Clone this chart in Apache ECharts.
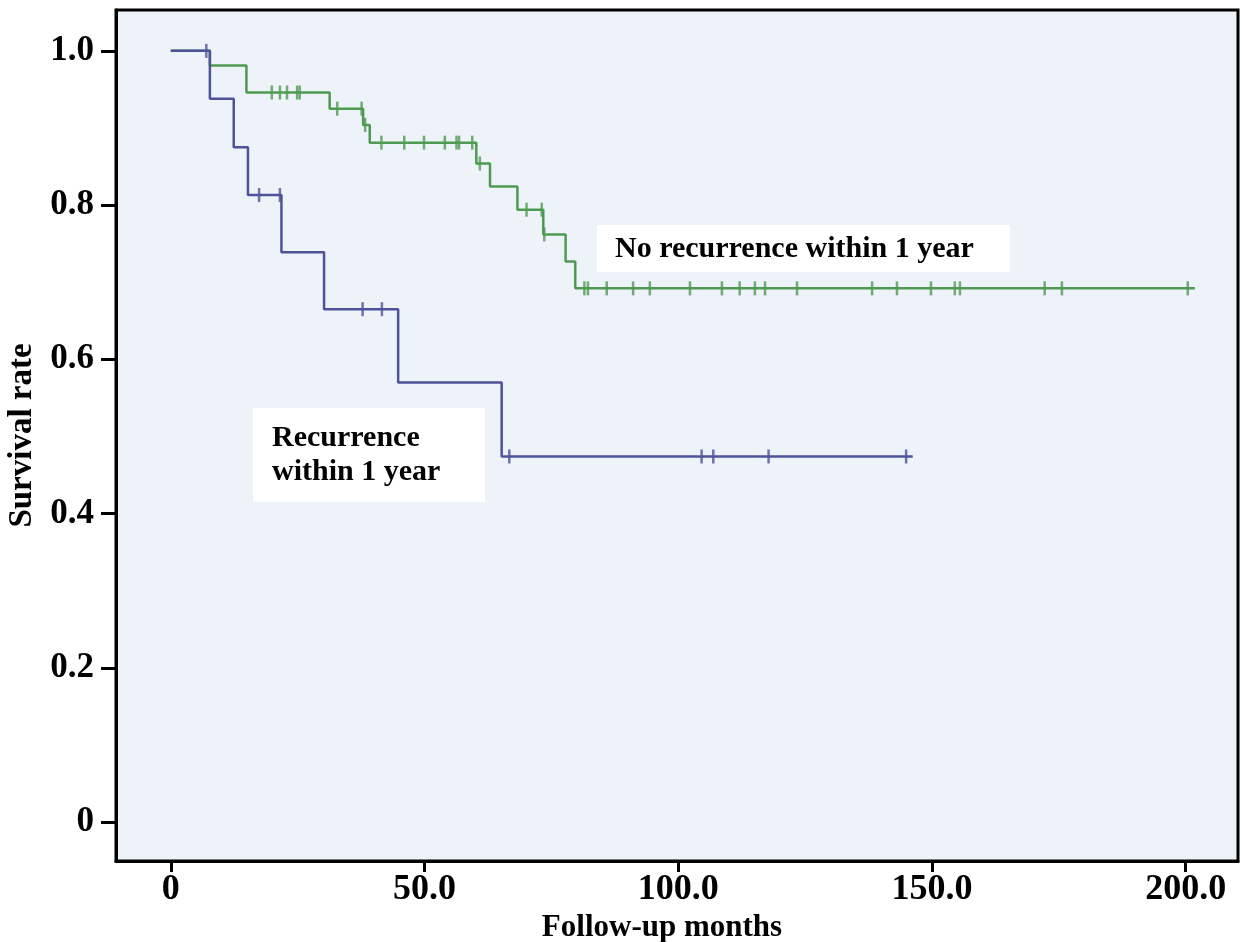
<!DOCTYPE html>
<html>
<head>
<meta charset="utf-8">
<script src="https://cdn.jsdelivr.net/npm/echarts@6/dist/echarts.min.js"></script>
<style>
  html, body { margin: 0; padding: 0; background: #fff; }
  #main { width: 1243px; height: 942px; }
</style>
</head>
<body>
<div id="main"></div>
<script>
// x ticks / y ticks
const xTicks = [0, 50, 100, 150, 200]
const yTicks = [0, 0.2, 0.4, 0.6, 0.8, 1.0]

// No recurrence within 1 year (green) - step times and survival
const greenTimes = [0, 7.7, 14.9, 31.3, 37.9, 39.2, 60.2, 62.9, 68.3, 73.4, 77.8, 79.7, 201.8]
const greenSurv = [1, 0.981, 0.946, 0.925, 0.904, 0.881, 0.854, 0.824, 0.794, 0.762, 0.727, 0.692, 0.692]
const greenCensor = [19.9, 21.5, 22.9, 24.9, 25.4, 32.8, 37.6, 38.3, 41.5, 46.0, 49.9, 54.0, 56.3, 56.8, 59.4,
  60.9, 70.1, 73.1, 73.6, 81.5, 82.2, 85.9, 91.1, 94.4, 102.3, 108.6, 112.1, 115.1, 117.1, 123.4,
  138.2, 143.1, 149.8, 154.5, 155.5, 172.2, 175.6, 200.4]

// Recurrence within 1 year (blue)
const blueTimes = [0, 7.7, 12.4, 15.2, 21.8, 30.2, 44.8, 65.2, 146.2]
const blueSurv = [1, 0.938, 0.875, 0.813, 0.739, 0.665, 0.570, 0.474, 0.474]
const blueCensor = [7.0, 17.4, 21.5, 37.8, 41.6, 66.7, 104.6, 106.9, 117.8, 144.9]

const GREEN = '#4f9a52'
const BLUE = '#4e5399'
const FONT = "'Liberation Serif', 'Times New Roman', serif"

function levelAt (times, surv, t) {
  let v = surv[0]
  for (let i = 0; i < times.length; i++) {
    if (times[i] <= t) v = surv[i]
  }
  return v
}

function stepData (times, surv) {
  return times.map((t, i) => [t, surv[i]])
}

function censorData (times, surv, cens) {
  return cens.map(t => [t, levelAt(times, surv, t)])
}

let option = {
  backgroundColor: '#fff',
  animation: false,
  grid: {
    left: 116,
    top: 10,
    right: 5,
    bottom: 81,
    containLabel: false,
    outerBoundsMode: 'none',
    show: true,
    backgroundColor: '#eef2f9',
    borderColor: '#000',
    borderWidth: 3
  },
  xAxis: {
    type: 'value',
    min: -10.8,
    max: 210.3,
    name: 'Follow-up months',
    nameLocation: 'middle',
    nameGap: 37,
    nameTextStyle: {
      fontFamily: FONT, fontWeight: 'bold', fontSize: 31, color: '#000',
      padding: [0, 30, 0, 0]
    },
    splitLine: { show: false },
    axisLine: { show: true, onZero: false, lineStyle: { color: '#000', width: 3 } },
    axisTick: { show: true, length: 11, customValues: xTicks, lineStyle: { color: '#000', width: 3 } },
    axisLabel: {
      customValues: xTicks,
      margin: 11,
      fontFamily: FONT, fontWeight: 'bold', fontSize: 36, color: '#000',
      formatter: v => v === 0 ? '0' : v.toFixed(1)
    }
  },
  yAxis: {
    type: 'value',
    min: -0.0506,
    max: 1.053,
    name: 'Survival rate',
    nameLocation: 'middle',
    nameGap: 66,
    nameTextStyle: { fontFamily: FONT, fontWeight: 'bold', fontSize: 33, color: '#000' },
    splitLine: { show: false },
    axisLine: { show: true, onZero: false, lineStyle: { color: '#000', width: 3 } },
    axisTick: { show: true, length: 15, customValues: yTicks, lineStyle: { color: '#000', width: 3 } },
    axisLabel: {
      customValues: yTicks,
      margin: 22,
      fontFamily: FONT, fontWeight: 'bold', fontSize: 35, color: '#000',
      formatter: v => v === 0 ? '0' : v.toFixed(1)
    }
  },
  series: [
    {
      name: 'No recurrence within 1 year',
      type: 'line',
      step: 'end',
      showSymbol: false,
      lineStyle: { color: GREEN, width: 2.5 },
      data: stepData(greenTimes, greenSurv)
    },
    {
      type: 'scatter',
      symbol: 'rect',
      symbolSize: [2.5, 14],
      itemStyle: { color: GREEN },
      data: censorData(greenTimes, greenSurv, greenCensor)
    },
    {
      name: 'Recurrence within 1 year',
      type: 'line',
      step: 'end',
      showSymbol: false,
      lineStyle: { color: BLUE, width: 2.5 },
      data: stepData(blueTimes, blueSurv)
    },
    {
      type: 'scatter',
      symbol: 'rect',
      symbolSize: [2.5, 14],
      itemStyle: { color: BLUE },
      data: censorData(blueTimes, blueSurv, blueCensor)
    }
  ],
  graphic: [
    { type: 'rect', shape: { x: 597, y: 225, width: 413, height: 47 }, style: { fill: '#fff' }, z: 10 },
    {
      type: 'text', x: 615, y: 249, z: 11,
      style: { text: 'No recurrence within 1 year', font: 'bold 30px ' + FONT, fill: '#000', verticalAlign: 'middle' }
    },
    { type: 'rect', shape: { x: 253, y: 408, width: 232, height: 94 }, style: { fill: '#fff' }, z: 10 },
    {
      type: 'text', x: 272, y: 455, z: 11,
      style: { text: 'Recurrence\nwithin 1 year', font: 'bold 30px ' + FONT, lineHeight: 34, fill: '#000', verticalAlign: 'middle' }
    }
  ]
}

let myChart = echarts.init(document.getElementById('main'))
myChart.setOption(option)
</script>
</body>
</html>
